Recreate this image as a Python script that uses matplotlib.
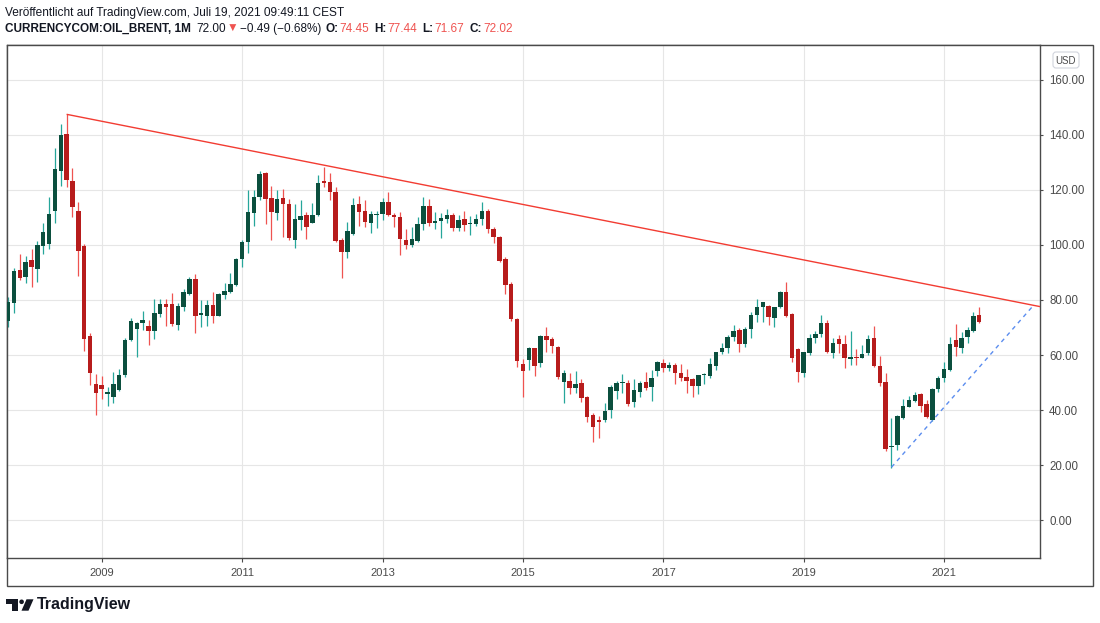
import matplotlib
matplotlib.use("Agg")
import matplotlib.pyplot as plt
from matplotlib.patches import Rectangle, Polygon, Circle, FancyBboxPatch
import numpy as np
import pandas as pd

# Monthly Brent candles, Sep 2007 .. Jul 2021
start_month = "2007-09-01"
opens = [72.5, 79.0, 90.9, 88.5,
         94.5, 91.4, 99.8, 100.4, 112.5, 127.0, 140.4, 123.3, 112.4, 99.8, 66.9, 49.5,
         49.1, 45.8, 44.8, 47.3, 52.7, 65.5, 69.6, 71.8, 70.6, 68.8, 74.9, 78.5,
         78.5, 71.0, 77.6, 82.2, 87.6, 74.7, 74.3, 78.2, 74.3, 81.9, 83.0, 85.6,
         94.8, 100.9, 111.8, 117.6, 126.3, 117.1, 111.8, 117.1, 114.9, 101.8, 108.9, 110.9,
         108.1, 110.9, 123.0, 122.9, 119.4, 101.8, 97.6, 104.0, 114.9, 112.4, 108.1, 110.8,
         111.4, 115.5, 110.9, 110.1, 101.8, 100.1, 101.6, 107.6, 114.2, 108.1, 108.8, 109.4,
         110.9, 106.3, 109.4, 107.5, 107.8, 109.4, 112.4, 105.8, 103.0, 94.9, 85.8, 73.1,
         56.7, 58.2, 62.4, 57.0, 66.9, 65.7, 63.0, 50.3, 50.5, 48.1, 50.0, 44.6,
         38.2, 36.0, 36.4, 40.0, 47.0, 49.7, 49.7, 43.0, 46.7, 50.3, 48.5, 54.3,
         57.2, 55.4, 56.4, 53.3, 51.9, 51.3, 48.9, 52.6, 52.4, 56.1, 61.0, 62.4,
         66.7, 69.1, 64.0, 69.3, 74.5, 77.3, 77.8, 73.6, 77.3, 83.0, 74.8, 62.2,
         53.3, 60.9, 66.1, 67.5, 71.8, 60.9, 65.8, 64.0, 58.4, 59.2, 59.0, 60.9,
         66.1, 56.0, 50.3, 26.4, 27.3, 37.2, 41.2, 43.3, 45.7, 42.2, 36.4, 47.6,
         51.5, 54.5, 65.5, 62.7, 66.7, 68.9, 74.45]
highs = [81.2, 91.5, 96.7, 96.0,
         98.5, 101.6, 108.0, 117.5, 135.3, 144.0, 147.5, 127.9, 115.6, 100.5, 67.9, 53.1,
         52.4, 48.5, 53.8, 54.8, 66.1, 73.3, 72.1, 76.1, 72.7, 80.2, 80.2, 80.2,
         82.7, 79.0, 83.9, 88.5, 89.5, 80.0, 80.0, 82.9, 82.7, 86.3, 89.9, 95.4,
         101.8, 120.0, 120.0, 127.0, 126.7, 121.5, 120.0, 120.2, 116.7, 114.9, 116.4, 112.1,
         115.4, 125.5, 128.5, 126.1, 121.2, 102.4, 108.5, 117.0, 117.8, 116.4, 112.4, 112.4,
         117.0, 119.2, 111.5, 111.9, 105.8, 106.4, 110.0, 117.6, 116.6, 111.9, 111.8, 113.1,
         111.5, 110.9, 112.4, 110.5, 111.2, 115.8, 113.0, 106.7, 103.4, 95.5, 86.4, 73.6,
         58.5, 63.0, 62.7, 67.2, 70.0, 66.7, 63.3, 54.5, 53.6, 54.2, 51.2, 45.1,
         39.0, 37.8, 42.4, 49.1, 50.5, 53.0, 50.9, 51.3, 50.5, 53.9, 54.5, 57.9,
         58.5, 57.3, 57.0, 56.6, 54.8, 51.5, 52.9, 53.3, 58.8, 61.2, 64.5, 67.3,
         70.9, 69.7, 70.1, 75.8, 80.2, 79.4, 78.2, 77.6, 83.3, 86.7, 75.2, 62.4,
         61.2, 67.5, 68.7, 74.5, 72.7, 66.1, 67.3, 67.3, 68.7, 62.2, 63.7, 67.3,
         70.6, 59.6, 53.6, 37.2, 38.2, 44.0, 45.1, 46.4, 46.3, 43.6, 47.9, 52.4,
         57.6, 66.4, 71.2, 68.5, 70.1, 75.5, 77.44]
lows = [70.3, 75.4, 87.3, 86.3,
        84.8, 86.7, 96.7, 98.7, 108.1, 121.5, 121.0, 110.0, 88.8, 61.6, 49.1, 38.2,
        43.9, 41.5, 42.4, 46.9, 52.1, 65.0, 59.4, 69.1, 63.6, 65.7, 73.7, 70.5,
        70.5, 69.1, 76.1, 81.7, 68.1, 70.3, 70.7, 71.5, 74.0, 80.5, 82.4, 85.1,
        92.1, 97.2, 106.9, 116.4, 107.6, 101.8, 109.1, 102.8, 101.8, 99.0, 105.5, 102.3,
        107.9, 110.6, 120.9, 116.4, 101.2, 88.1, 95.2, 103.6, 107.0, 106.7, 104.5, 106.3,
        109.1, 110.5, 106.7, 96.4, 98.5, 99.4, 101.0, 105.5, 107.0, 105.8, 102.7, 107.9,
        105.1, 105.1, 105.1, 103.6, 106.9, 107.3, 104.2, 100.8, 93.9, 82.2, 72.5, 55.8,
        44.6, 54.5, 52.5, 55.8, 61.0, 60.6, 51.3, 42.7, 45.8, 46.1, 43.0, 35.8,
        28.5, 29.7, 35.8, 37.0, 43.9, 46.3, 41.5, 41.2, 44.9, 47.3, 43.4, 52.5,
        53.7, 54.3, 49.6, 50.7, 46.3, 44.6, 45.8, 49.5, 51.5, 54.5, 60.4, 60.6,
        65.2, 61.2, 63.0, 66.1, 72.1, 72.1, 70.9, 70.3, 77.2, 73.9, 57.6, 50.3,
        51.9, 60.0, 64.5, 66.7, 60.6, 58.8, 60.9, 55.4, 56.4, 56.4, 58.8, 60.0,
        55.8, 48.7, 25.1, 19.1, 25.5, 36.7, 41.0, 42.8, 39.4, 37.0, 36.1, 46.7,
        50.3, 54.3, 59.6, 60.9, 64.2, 68.5, 71.67]
closes = [79.4, 90.5, 88.1, 93.7,
          92.1, 100.0, 104.7, 111.3, 127.6, 140.0, 123.6, 113.9, 97.9, 65.9, 53.6, 46.3,
          47.5, 46.5, 49.5, 52.7, 65.5, 72.5, 71.8, 72.7, 68.8, 75.4, 78.5, 77.6,
          71.4, 77.8, 82.8, 87.6, 74.3, 74.9, 78.2, 74.3, 82.2, 83.3, 85.8, 94.9,
          101.0, 112.1, 117.5, 125.8, 116.6, 112.1, 116.7, 114.8, 102.7, 109.5, 110.6, 106.7,
          110.9, 122.6, 122.7, 119.4, 101.5, 97.6, 105.1, 114.5, 112.1, 108.5, 111.3, 111.3,
          115.5, 110.9, 110.0, 102.3, 100.1, 102.1, 107.6, 114.2, 108.1, 108.7, 109.7, 110.9,
          106.3, 109.1, 107.3, 108.1, 109.4, 112.4, 105.8, 103.0, 94.3, 85.5, 73.1, 57.9,
          54.3, 62.4, 56.1, 66.9, 65.5, 63.4, 52.1, 53.6, 48.1, 49.5, 44.5, 37.3,
          33.7, 35.8, 39.6, 48.2, 49.7, 49.9, 42.2, 47.3, 50.0, 48.1, 51.5, 57.6,
          55.4, 56.4, 53.3, 51.8, 50.7, 48.9, 52.7, 53.0, 56.6, 61.0, 62.4, 66.7,
          68.7, 64.0, 69.5, 74.5, 77.3, 79.2, 73.9, 77.3, 83.0, 74.3, 59.0, 53.9,
          61.0, 66.1, 67.6, 71.8, 61.2, 64.2, 63.9, 58.8, 59.2, 59.0, 60.4, 65.7,
          56.0, 49.9, 25.8, 26.9, 37.8, 41.4, 43.6, 45.5, 41.6, 37.6, 47.5, 51.5,
          54.8, 63.9, 62.8, 66.1, 69.1, 74.2, 72.02]

price_ticks = [0, 20, 40, 60, 80, 100, 120, 140, 160]
year_labels = [2009, 2011, 2013, 2015, 2017, 2019, 2021]

# drawn lines: (month index, price) pairs
resistance = [(10, 147.5), (176.5, 77.55)]
support = [(151, 19.2), (175.3, 78.1)]

header_1 = "Veröffentlicht auf TradingView.com, Juli 19, 2021 09:49:11 CEST"
symbol = "CURRENCYCOM:OIL_BRENT, 1M"
last_price = "72.00"
change = "\u22120.49 (\u22120.68%)"
ohlc = [("O:", "74.45"), ("H:", "77.44"), ("L:", "71.67"), ("C:", "72.02")]

UP_BODY, UP_WICK = "#0b4f3e", "#26a69a"
DN_BODY, DN_WICK = "#b71c1c", "#ef5350"
FRAME = "#4a4a4a"
TXT = "#131722"
FONT = ["Liberation Sans", "DejaVu Sans"]

W, H = 1100, 623
fig = plt.figure(figsize=(W / 100, H / 100), dpi=100)
fig.patch.set_facecolor("white")

# overlay in pixel coordinates for frame, header, logo
ov = fig.add_axes([0, 0, 1, 1])
ov.set_xlim(0, W)
ov.set_ylim(H, 0)
ov.axis("off")

ax = fig.add_axes([7 / W, 1 - 558 / H, 1033 / W, 513 / H])

dates = pd.date_range(start_month, periods=len(opens), freq="MS")
idx = np.arange(len(dates))
o = np.array(opens)
h = np.array(highs)
l = np.array(lows)
c = np.array(closes)
up = c >= o

body_bottom = np.minimum(o, c)
body_height = np.maximum(np.abs(c - o), 0.4)

ax.vlines(idx[up], l[up], h[up], color=UP_WICK, lw=0.9, zorder=2)
ax.vlines(idx[~up], l[~up], h[~up], color=DN_WICK, lw=0.9, zorder=2)
ax.bar(idx[up], body_height[up], bottom=body_bottom[up], width=0.76,
       color=UP_BODY, zorder=3, linewidth=0)
ax.bar(idx[~up], body_height[~up], bottom=body_bottom[~up], width=0.76,
       color=DN_BODY, zorder=3, linewidth=0)

rx, ry = zip(*resistance)
ax.plot(rx, ry, color="#f23c32", lw=1.0, zorder=4, solid_capstyle="butt")
sx, sy = zip(*support)
ax.plot(sx, sy, color="#5b8def", lw=1.0, ls=(0, (3, 3)), zorder=4)

ax.set_xlim(-0.19, 176.39)
ax.set_ylim(-13.8, 172.7)

year_idx = [int(np.where((dates.year == y) & (dates.month == 1))[0][0]) for y in year_labels]
ax.set_xticks(year_idx)
ax.set_xticklabels([str(y) for y in year_labels])
ax.set_yticks(price_ticks)
ax.set_yticklabels([f"{v:.2f}" for v in price_ticks])
ax.yaxis.tick_right()
ax.tick_params(axis="x", direction="out", length=3, width=0.8, color=FRAME,
               labelsize=8, labelcolor="#4a4a4a", pad=4)
ax.tick_params(axis="y", direction="out", length=2.5, width=0.8, color=FRAME,
               labelsize=8.3, labelcolor="#4a4a4a", pad=4)
for lab in ax.get_xticklabels() + ax.get_yticklabels():
    lab.set_fontfamily(FONT)

ax.grid(True, color="#e6e6e6", lw=0.8, zorder=0)
ax.set_axisbelow(True)
for sp in ax.spines.values():
    sp.set_color(FRAME)
    sp.set_linewidth(1.0)

# outer frame
ov.add_patch(Rectangle((7, 45), 1086, 541, fill=False, ec=FRAME, lw=1.0))

# USD badge
ov.add_patch(FancyBboxPatch((1053, 52), 26, 16, boxstyle="round,pad=0,rounding_size=3",
                            fc="white", ec="#d1d4dc", lw=0.8))
ov.text(1066, 60.5, "USD", ha="center", va="center", fontsize=7, color="#4a4a4a",
        family=FONT)

# header
renderer = fig.canvas.get_renderer()


def put(x, y, s, gap=0, size=8.5, **kw):
    """Write s at pixel x and return the pixel x where the next piece starts"""
    t = ov.text(x, y, s, ha="left", va="center", fontsize=size, family=FONT, **kw)
    bb = t.get_window_extent(renderer)
    return bb.x1 + gap


put(5, 13, header_1, size=8.6, color=TXT)
x = put(5, 29, symbol, gap=5, color=TXT, fontweight="bold")
x = put(x, 29, last_price, gap=1, color=TXT)
x = put(x, 29, "\u25bc", gap=2, color=DN_WICK)
x = put(x, 29, change, gap=4, color=TXT)
for lab, val in ohlc:
    x = put(x, 29, lab, gap=1, color=TXT, fontweight="bold")
    x = put(x, 29, val, gap=5, color=DN_WICK)

# TradingView logo
ov.add_patch(Rectangle((6, 599.3), 12.3, 4.7, fc=TXT, ec="none"))
ov.add_patch(Rectangle((12.3, 599.3), 6, 11.4, fc=TXT, ec="none"))
ov.add_patch(Circle((21.6, 601.8), 2.3, fc=TXT, ec="none"))
ov.add_patch(Polygon([(26.5, 599.3), (33.5, 599.3), (28.5, 610.7), (21.5, 610.7)],
                     closed=True, fc=TXT, ec="none"))
ov.text(37, 605, "TradingView", ha="left", va="center", fontsize=11.5, color=TXT,
        fontweight="bold", family=FONT)

fig.savefig("out.png", dpi=100, facecolor="white")
